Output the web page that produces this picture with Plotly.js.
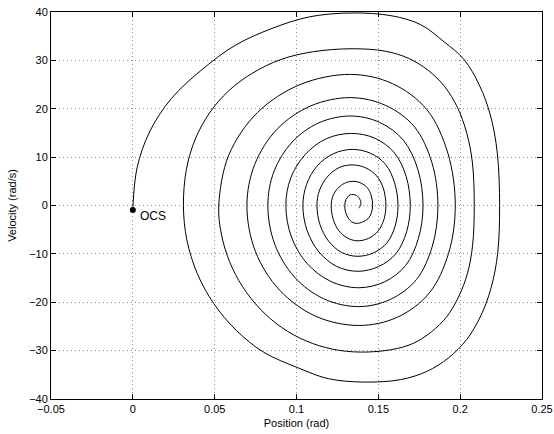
<!DOCTYPE html>
<html>
<head>
<meta charset="utf-8">
<script src="https://cdn.plot.ly/plotly-3.0.1.min.js"></script>
<style>html,body{margin:0;padding:0;background:#fff;}#chart{width:554px;height:434px;}</style>
</head>
<body>
<div id="chart"></div>
<script>
// Trajectory, turn by turn (upper half, then lower half)
const position = [
  // turn 1 upper
  0, 0.0026, 0.0102, 0.0235, 0.043, 0.0625, 0.085, 0.1079, 0.134,
  0.1584, 0.1758, 0.1903, 0.2023, 0.2117, 0.2186, 0.2227, 0.2241,
  // turn 1 lower
  0.2229, 0.219, 0.2126, 0.204, 0.1929, 0.1796, 0.1635, 0.141,
  0.1195, 0.102, 0.0798, 0.0632, 0.0495, 0.0393, 0.033, 0.0309,
  // turn 2 upper
  0.0327, 0.038, 0.0468, 0.0585, 0.0733, 0.0906, 0.1104, 0.134,
  0.1542, 0.1686, 0.1806, 0.1905, 0.1983, 0.204, 0.2075, 0.2086,
  // turn 2 lower
  0.2076, 0.2044, 0.199, 0.1918, 0.1825, 0.1713, 0.1579, 0.139,
  0.1221, 0.1059, 0.0909, 0.0778, 0.0671, 0.0591, 0.0541, 0.0525,
  // turn 3
  0.0586, 0.0761, 0.1022, 0.133, 0.1586, 0.1797, 0.1925, 0.197,
  0.1929, 0.1811, 0.1616, 0.138, 0.1118, 0.0897, 0.0749, 0.0697,
  // turn 4
  0.0745, 0.0882, 0.1088, 0.133, 0.1544, 0.172, 0.1827, 0.1864,
  0.183, 0.1733, 0.1574, 0.138, 0.1167, 0.0988, 0.0867, 0.0825,
  // turn 5
  0.0863, 0.0973, 0.1137, 0.133, 0.1507, 0.1653, 0.1742, 0.1773,
  0.1745, 0.1667, 0.1537, 0.138, 0.121, 0.1065, 0.0969, 0.0935,
  // turn 6
  0.0965, 0.1052, 0.1182, 0.1335, 0.1479, 0.1598, 0.167, 0.1695,
  0.1673, 0.1609, 0.1503, 0.1375, 0.1246, 0.1137, 0.1065, 0.1039,
  // turn 7
  0.1062, 0.1127, 0.1225, 0.134, 0.1452, 0.1544, 0.16, 0.162,
  0.1603, 0.1553, 0.147, 0.137, 0.1276, 0.1197, 0.1144, 0.1125,
  // turn 8
  0.1141, 0.1188, 0.1258, 0.134, 0.1422, 0.149, 0.1532, 0.1546,
  0.1534, 0.1498, 0.144, 0.137, 0.131, 0.1258, 0.1224, 0.1212,
  // turn 9
  0.1222, 0.1251, 0.1294, 0.1345, 0.1393, 0.1433, 0.1457, 0.1465,
  0.1458, 0.1438, 0.1405, 0.1365, 0.1338, 0.1316, 0.13, 0.1295,
  // final curl
  0.1302, 0.1328, 0.1365, 0.139, 0.1392, 0.138
];
const velocity = [
  // turn 1 upper
  -0.5, 7.8, 15.2, 22.1, 28.3, 33.1, 36.6, 39.0, 39.8,
  39.2, 37.4, 33.8, 30.2, 24.9, 18.5, 10.8, 0,
  // turn 1 lower
  -9.9, -16.9, -22.8, -27.7, -31.5, -34.3, -36.0, -36.5,
  -35.8, -33.7, -30.3, -25.8, -20.3, -14.0, -7.1, 0,
  // turn 2 upper
  7.4, 13.6, 19.1, 23.7, 27.4, 30.2, 31.8, 32.4,
  31.9, 30.4, 27.9, 24.6, 20.3, 15.0, 8.8, 0,
  // turn 2 lower
  -8.2, -14.1, -18.9, -23.0, -26.1, -28.5, -29.8, -30.3,
  -29.7, -28.0, -25.2, -21.4, -16.8, -11.6, -5.9, 0,
  // turn 3
  10.4, 19.2, 25.0, 27.1, 25.2, 19.8, 10.8, 0,
  -9.9, -18.1, -23.1, -24.8, -22.9, -17.5, -9.5, 0,
  // turn 4
  8.5, 15.8, 20.6, 22.3, 20.7, 16.3, 8.9, 0,
  -8.4, -15.3, -19.4, -20.9, -19.3, -14.8, -8.0, 0,
  // turn 5
  7.1, 13.1, 17.1, 18.5, 17.2, 13.5, 7.4, 0,
  -6.8, -12.4, -15.8, -17.0, -15.7, -12.0, -6.5, 0,
  // turn 6
  5.7, 10.5, 13.8, 14.9, 13.9, 10.9, 6.0, 0,
  -5.4, -9.9, -12.6, -13.6, -12.6, -9.6, -5.2, 0,
  // turn 7
  4.4, 8.2, 10.7, 11.6, 10.8, 8.5, 4.6, 0,
  -4.2, -7.7, -9.8, -10.5, -9.7, -7.4, -4.0, 0,
  // turn 8
  3.2, 5.9, 7.8, 8.4, 7.8, 6.1, 3.4, 0,
  -2.9, -5.3, -6.8, -7.3, -6.7, -5.2, -2.8, 0,
  // turn 9
  1.9, 3.5, 4.6, 5.0, 4.65, 3.65, 2.0, 0,
  -1.5, -2.7, -3.4, -3.7, -3.4, -2.6, -1.4, 0,
  // final curl
  1.2, 2.2, 2.1, 1.1, 0, -0.5
];
const ocsPosition = [0];
const ocsVelocity = [-0.95];
const ocsLabel = "OCS";
const xTicks = [-0.05, 0, 0.05, 0.1, 0.15, 0.2, 0.25];
const yTicks = [-40, -30, -20, -10, 0, 10, 20, 30, 40];

const font = {family: "Liberation Sans, Arial, Helvetica, sans-serif", size: 11, color: "#000"};
const axisCommon = {
  showline: true, linecolor: "#000", linewidth: 1, mirror: "ticks",
  ticks: "inside", ticklen: 5, tickcolor: "#000", tickwidth: 1,
  showgrid: true, gridcolor: "#8c8c8c", griddash: "1px,3px", gridwidth: 1,
  zeroline: false, tickfont: font
};

const traces = [
  {x: position, y: velocity, type: "scatter", mode: "lines",
   line: {color: "#000", width: 1, shape: "spline", smoothing: 1}, hoverinfo: "skip"},
  {x: ocsPosition, y: ocsVelocity, type: "scatter", mode: "markers",
   marker: {color: "#000", size: 6, symbol: "circle"}, hoverinfo: "skip"}
];

const layout = {
  width: 554, height: 434,
  margin: {l: 51, r: 12, t: 12, b: 35},
  paper_bgcolor: "#fff", plot_bgcolor: "#fff",
  showlegend: false,
  font: font,
  xaxis: Object.assign({}, axisCommon, {
    range: [-0.05, 0.25], tickvals: xTicks,
    ticktext: xTicks.map(v => v < 0 ? "\u2212" + Math.abs(v) : String(v)),
    title: {text: "Position (rad)", font: {family: font.family, size: 11, color: "#000"}, standoff: 5}
  }),
  yaxis: Object.assign({}, axisCommon, {
    range: [-40, 40], tickvals: yTicks,
    ticktext: yTicks.map(v => v < 0 ? "\u2212" + Math.abs(v) : String(v)),
    title: {text: "Velocity (rad/s)", font: {family: font.family, size: 11, color: "#000"}, standoff: 10}
  }),
  annotations: [{
    x: ocsPosition[0] + 0.003, y: ocsVelocity[0] - 1.2, xref: "x", yref: "y",
    text: ocsLabel, showarrow: false, xanchor: "left", yanchor: "middle",
    font: {family: font.family, size: 12, color: "#000"}
  }]
};

Plotly.newPlot("chart", traces, layout, {staticPlot: true, displayModeBar: false});
</script>
</body>
</html>
